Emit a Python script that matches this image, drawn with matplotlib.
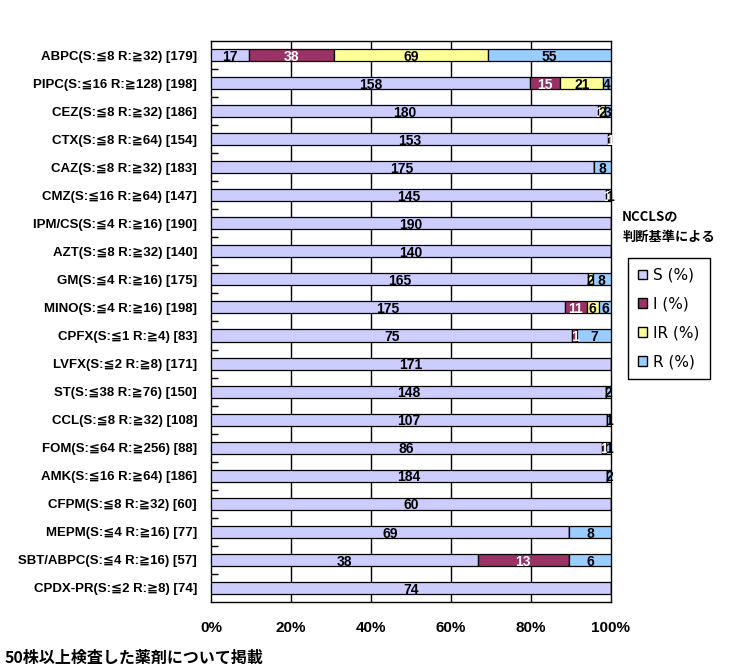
import numpy as np
import matplotlib
matplotlib.use("Agg")
import matplotlib.pyplot as plt
import matplotlib.patches as mpatches

plt.rcParams['font.family'] = ['Liberation Sans', 'DejaVu Sans', 'Noto Sans CJK JP']

# drug labels (breakpoints and number of strains tested)
drugs = [
    'ABPC(S:≦8 R:≧32) [179]',
    'PIPC(S:≦16 R:≧128) [198]',
    'CEZ(S:≦8 R:≧32) [186]',
    'CTX(S:≦8 R:≧64) [154]',
    'CAZ(S:≦8 R:≧32) [183]',
    'CMZ(S:≦16 R:≧64) [147]',
    'IPM/CS(S:≦4 R:≧16) [190]',
    'AZT(S:≦8 R:≧32) [140]',
    'GM(S:≦4 R:≧16) [175]',
    'MINO(S:≦4 R:≧16) [198]',
    'CPFX(S:≦1 R:≧4) [83]',
    'LVFX(S:≦2 R:≧8) [171]',
    'ST(S:≦38 R:≧76) [150]',
    'CCL(S:≦8 R:≧32) [108]',
    'FOM(S:≦64 R:≧256) [88]',
    'AMK(S:≦16 R:≧64) [186]',
    'CFPM(S:≦8 R:≧32) [60]',
    'MEPM(S:≦4 R:≧16) [77]',
    'SBT/ABPC(S:≦4 R:≧16) [57]',
    'CPDX-PR(S:≦2 R:≧8) [74]',
]

# strain counts per category
s_cnt  = [17, 158, 180, 153, 175, 145, 190, 140, 165, 175, 75, 171, 148, 107, 86, 184, 60, 69, 38, 74]
i_cnt  = [38, 15, 1, 1, 0, 1, 0, 0, 0, 11, 1, 0, 0, 0, 1, 0, 0, 0, 13, 0]
ir_cnt = [69, 21, 2, 0, 0, 0, 0, 0, 2, 6, 0, 0, 0, 0, 0, 0, 0, 0, 0, 0]
r_cnt  = [55, 4, 3, 0, 8, 1, 0, 0, 8, 6, 7, 0, 2, 1, 1, 2, 0, 8, 6, 0]

series = [('S (%)', s_cnt, '#CCCCFF', 'black'),
          ('I (%)', i_cnt, '#993366', 'white'),
          ('IR (%)', ir_cnt, '#FFFF99', 'black'),
          ('R (%)', r_cnt, '#99CCFF', 'black')]

counts = np.array([s for _, s, _, _ in series], dtype=float)
totals = counts.sum(axis=0)
pct = counts / totals * 100

fig = plt.figure(figsize=(7.38, 6.72), dpi=100)
ax = fig.add_axes([0.2859, 0.1042, 0.542, 0.8348])

y = np.arange(len(drugs))
left = np.zeros(len(drugs))
for k, (name, cnt, col, tcol) in enumerate(series):
    ax.barh(y, pct[k], left=left, height=0.43, color=col, edgecolor='black',
            linewidth=0.9, zorder=3)
    for j in range(len(drugs)):
        if cnt[j] > 0:
            ax.text(left[j] + pct[k][j] / 2, y[j] + 0.06, str(cnt[j]), ha='center', va='center',
                    fontsize=10, fontweight='bold', color=tcol, zorder=4)
    left += pct[k]

ax.set_xlim(0, 100)
ax.set_ylim(len(drugs) - 0.5, -0.5)
ax.set_xticks([0, 20, 40, 60, 80, 100])
ax.set_xticklabels(['0%', '20%', '40%', '60%', '80%', '100%'], fontsize=11,
                   fontweight='bold')
ax.tick_params(axis='x', length=0, pad=14)
ax.set_yticks(y)
ax.set_yticklabels(drugs, fontsize=9.5, fontweight='bold')
ax.tick_params(axis='y', length=0, pad=10)
ax.set_yticks(y[:-1] + 0.5, minor=True)
ax.tick_params(axis='y', which='minor', direction='in', length=5, width=1)

for xv in [20, 40, 60, 80]:
    ax.axvline(xv, color='black', linewidth=1, zorder=1)
for sp in ax.spines.values():
    sp.set_linewidth(1)

fig.text(0.843, 0.672, 'NCCLSの', fontsize=9.5, fontweight='bold',
         family=['Noto Sans CJK JP', 'DejaVu Sans'])
fig.text(0.843, 0.641, '判断基準による', fontsize=9.5, fontweight='bold',
         family=['Noto Sans CJK JP', 'DejaVu Sans'])

handles = [mpatches.Patch(facecolor=c, edgecolor='black', label=n) for n, _, c, _ in series]
leg = fig.legend(handles=handles, loc='upper left', bbox_to_anchor=(0.851, 0.616),
                 frameon=True, fancybox=False, edgecolor='black', borderaxespad=0,
                 framealpha=1, handlelength=0.6, handleheight=0.6, handletextpad=0.4,
                 labelspacing=0.9, borderpad=0.65,
                 prop={'family': ['DejaVu Sans'], 'size': 11})
leg.get_frame().set_linewidth(1)

fig.text(0.006, 0.013, '50株以上検査した薬剤について掲載', fontsize=11.5, fontweight='bold',
         family=['Noto Sans CJK JP', 'DejaVu Sans'])

plt.savefig('out.png', dpi=100)
